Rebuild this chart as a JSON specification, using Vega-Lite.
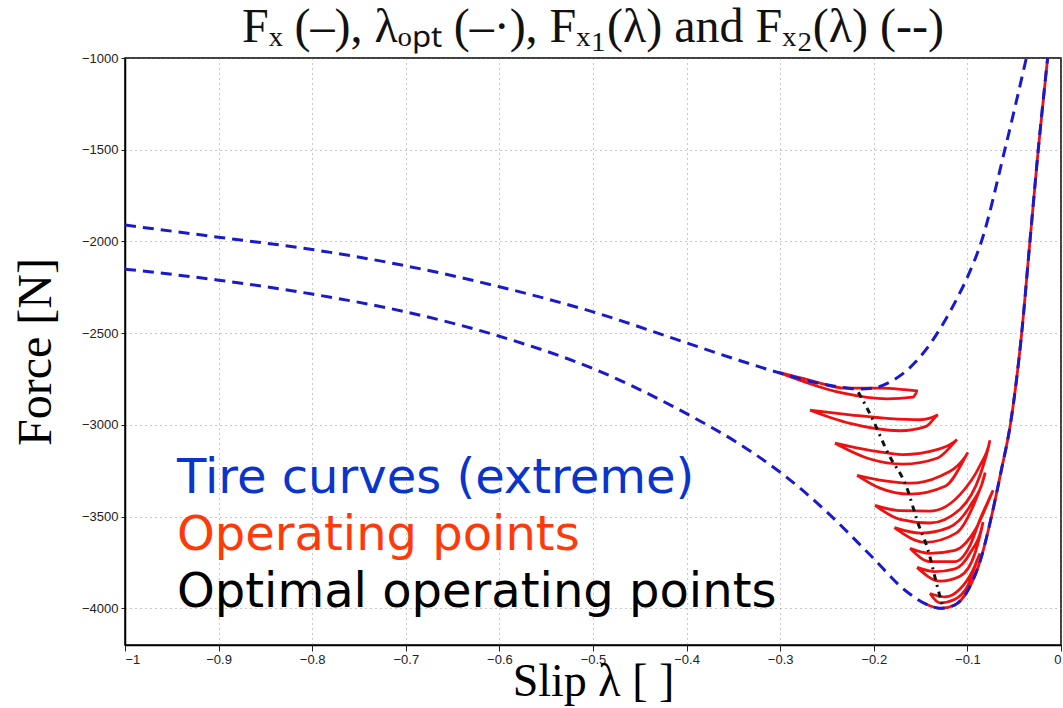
{
  "$schema": "https://vega.github.io/schema/vega-lite/v6.json",
  "width": 936,
  "height": 587,
  "autosize": "none",
  "padding": {"left": 125, "top": 58, "right": 2, "bottom": 63},
  "background": "white",
  "title": {
    "text": "Fₓ (–), λₒₚₜ (–·), Fₓ₁(λ) and Fₓ₂(λ) (--)",
    "font": "Liberation Serif",
    "fontSize": 48,
    "fontWeight": "normal",
    "color": "#111",
    "anchor": "middle",
    "offset": 0
  },
  "config": {
    "view": {"stroke": "#000", "strokeWidth": 1.5},
    "axis": {
      "labelFont": "Liberation Sans",
      "labelFontSize": 13,
      "labelColor": "#222",
      "domainColor": "#000",
      "domainWidth": 1.5,
      "tickColor": "#222",
      "gridColor": "#777",
      "gridDash": [1, 4],
      "gridWidth": 1,
      "gridOpacity": 0.8,
      "titleFont": "Liberation Serif",
      "titleFontWeight": "normal",
      "titleColor": "#000"
    }
  },
  "datasets": {
    "tireHigh": [
      {"x": -1.0, "y": -1911}, {"x": -0.9, "y": -1977}, {"x": -0.8, "y": -2044},
      {"x": -0.7, "y": -2133}, {"x": -0.6, "y": -2247}, {"x": -0.5, "y": -2384},
      {"x": -0.4, "y": -2553}, {"x": -0.35, "y": -2638}, {"x": -0.3, "y": -2718},
      {"x": -0.26, "y": -2772}, {"x": -0.23, "y": -2798}, {"x": -0.215, "y": -2805},
      {"x": -0.2, "y": -2799}, {"x": -0.185, "y": -2772}, {"x": -0.17, "y": -2725},
      {"x": -0.155, "y": -2655}, {"x": -0.14, "y": -2560}, {"x": -0.125, "y": -2440},
      {"x": -0.11, "y": -2300}, {"x": -0.1, "y": -2195}, {"x": -0.085, "y": -2000},
      {"x": -0.06, "y": -1500}, {"x": -0.037, "y": -1000}
    ],
    "tireLow": [
      {"x": -1.0, "y": -2151}, {"x": -0.9, "y": -2211}, {"x": -0.8, "y": -2287},
      {"x": -0.7, "y": -2384}, {"x": -0.6, "y": -2517}, {"x": -0.5, "y": -2693},
      {"x": -0.4, "y": -2939}, {"x": -0.344, "y": -3103}, {"x": -0.298, "y": -3266},
      {"x": -0.252, "y": -3466}, {"x": -0.202, "y": -3719}, {"x": -0.167, "y": -3900},
      {"x": -0.142, "y": -3982}, {"x": -0.128, "y": -4000}, {"x": -0.1135, "y": -3982},
      {"x": -0.0993, "y": -3900}, {"x": -0.085, "y": -3719}, {"x": -0.0744, "y": -3502},
      {"x": -0.0638, "y": -3248}, {"x": -0.054, "y": -2995}, {"x": -0.042, "y": -2500},
      {"x": -0.0332, "y": -2000}, {"x": -0.0243, "y": -1500}, {"x": -0.0143, "y": -1000}
    ],
    "operating": [
      {"h": 0, "i": 0, "x": -0.145, "y": -3975}, {"h": 0, "i": 1, "x": -0.142, "y": -3982},
      {"h": 0, "i": 2, "x": -0.128, "y": -4000}, {"h": 0, "i": 3, "x": -0.1135, "y": -3982},
      {"h": 0, "i": 4, "x": -0.0993, "y": -3900}, {"h": 0, "i": 5, "x": -0.085, "y": -3719},
      {"h": 0, "i": 6, "x": -0.0744, "y": -3502}, {"h": 0, "i": 7, "x": -0.0638, "y": -3248},
      {"h": 0, "i": 8, "x": -0.054, "y": -2995}, {"h": 0, "i": 9, "x": -0.042, "y": -2500},
      {"h": 0, "i": 10, "x": -0.0332, "y": -2000}, {"h": 0, "i": 11, "x": -0.0243, "y": -1500},
      {"h": 0, "i": 12, "x": -0.0143, "y": -1000},

      {"h": 1, "i": 0, "x": -0.3024, "y": -2713}, {"h": 1, "i": 1, "x": -0.2682, "y": -2757},
      {"h": 1, "i": 2, "x": -0.2297, "y": -2800}, {"h": 1, "i": 3, "x": -0.1934, "y": -2800},
      {"h": 1, "i": 4, "x": -0.1667, "y": -2808}, {"h": 1, "i": 5, "x": -0.1528, "y": -2815},
      {"h": 1, "i": 6, "x": -0.1581, "y": -2849}, {"h": 1, "i": 7, "x": -0.1859, "y": -2858},
      {"h": 1, "i": 8, "x": -0.234, "y": -2826}, {"h": 1, "i": 9, "x": -0.3024, "y": -2713},

      {"h": 2, "i": 0, "x": -0.2682, "y": -2920}, {"h": 2, "i": 1, "x": -0.2254, "y": -2945},
      {"h": 2, "i": 2, "x": -0.1827, "y": -2966}, {"h": 2, "i": 3, "x": -0.1506, "y": -2972},
      {"h": 2, "i": 4, "x": -0.1314, "y": -2945}, {"h": 2, "i": 5, "x": -0.1442, "y": -3008},
      {"h": 2, "i": 6, "x": -0.172, "y": -3032}, {"h": 2, "i": 7, "x": -0.2254, "y": -2992},
      {"h": 2, "i": 8, "x": -0.2682, "y": -2920},

      {"h": 3, "i": 0, "x": -0.2415, "y": -3100}, {"h": 3, "i": 1, "x": -0.2041, "y": -3139},
      {"h": 3, "i": 2, "x": -0.1688, "y": -3162}, {"h": 3, "i": 3, "x": -0.1325, "y": -3135},
      {"h": 3, "i": 4, "x": -0.1111, "y": -3080}, {"h": 3, "i": 5, "x": -0.1325, "y": -3182},
      {"h": 3, "i": 6, "x": -0.1688, "y": -3214}, {"h": 3, "i": 7, "x": -0.2041, "y": -3186},
      {"h": 3, "i": 8, "x": -0.2415, "y": -3100},

      {"h": 4, "i": 0, "x": -0.2179, "y": -3275}, {"h": 4, "i": 1, "x": -0.188, "y": -3305},
      {"h": 4, "i": 2, "x": -0.1613, "y": -3318}, {"h": 4, "i": 3, "x": -0.1293, "y": -3280},
      {"h": 4, "i": 4, "x": -0.0994, "y": -3150}, {"h": 4, "i": 5, "x": -0.1239, "y": -3335},
      {"h": 4, "i": 6, "x": -0.1613, "y": -3378}, {"h": 4, "i": 7, "x": -0.1934, "y": -3345},
      {"h": 4, "i": 8, "x": -0.2179, "y": -3275},

      {"h": 5, "i": 0, "x": -0.1987, "y": -3439}, {"h": 5, "i": 1, "x": -0.172, "y": -3468},
      {"h": 5, "i": 2, "x": -0.14, "y": -3470}, {"h": 5, "i": 3, "x": -0.1079, "y": -3380},
      {"h": 5, "i": 4, "x": -0.0865, "y": -3220}, {"h": 5, "i": 5, "x": -0.0759, "y": -3084},
      {"h": 5, "i": 6, "x": -0.0865, "y": -3275}, {"h": 5, "i": 7, "x": -0.1079, "y": -3460},
      {"h": 5, "i": 8, "x": -0.14, "y": -3535}, {"h": 5, "i": 9, "x": -0.172, "y": -3515},
      {"h": 5, "i": 10, "x": -0.1987, "y": -3439},

      {"h": 9, "i": 0, "x": -0.178, "y": -3560}, {"h": 9, "i": 1, "x": -0.15, "y": -3590},
      {"h": 9, "i": 2, "x": -0.12, "y": -3560}, {"h": 9, "i": 3, "x": -0.097, "y": -3440},
      {"h": 9, "i": 4, "x": -0.081, "y": -3260}, {"h": 9, "i": 5, "x": -0.092, "y": -3420},
      {"h": 9, "i": 6, "x": -0.112, "y": -3590}, {"h": 9, "i": 7, "x": -0.145, "y": -3640},
      {"h": 9, "i": 8, "x": -0.178, "y": -3560},

      {"h": 6, "i": 0, "x": -0.1613, "y": -3673}, {"h": 6, "i": 1, "x": -0.14, "y": -3700},
      {"h": 6, "i": 2, "x": -0.1132, "y": -3684}, {"h": 6, "i": 3, "x": -0.0919, "y": -3575},
      {"h": 6, "i": 4, "x": -0.0726, "y": -3357}, {"h": 6, "i": 5, "x": -0.0865, "y": -3515},
      {"h": 6, "i": 6, "x": -0.0972, "y": -3657}, {"h": 6, "i": 7, "x": -0.1132, "y": -3745},
      {"h": 6, "i": 8, "x": -0.14, "y": -3745}, {"h": 6, "i": 9, "x": -0.1613, "y": -3673},

      {"h": 7, "i": 0, "x": -0.1538, "y": -3777}, {"h": 7, "i": 1, "x": -0.1346, "y": -3800},
      {"h": 7, "i": 2, "x": -0.1132, "y": -3785}, {"h": 7, "i": 3, "x": -0.0972, "y": -3700},
      {"h": 7, "i": 4, "x": -0.0833, "y": -3530}, {"h": 7, "i": 5, "x": -0.0919, "y": -3700},
      {"h": 7, "i": 6, "x": -0.1079, "y": -3825}, {"h": 7, "i": 7, "x": -0.1293, "y": -3852},
      {"h": 7, "i": 8, "x": -0.1538, "y": -3777},

      {"h": 8, "i": 0, "x": -0.14, "y": -3919}, {"h": 8, "i": 1, "x": -0.1239, "y": -3938},
      {"h": 8, "i": 2, "x": -0.1079, "y": -3895}, {"h": 8, "i": 3, "x": -0.094, "y": -3790},
      {"h": 8, "i": 4, "x": -0.0865, "y": -3700}, {"h": 8, "i": 5, "x": -0.0994, "y": -3875},
      {"h": 8, "i": 6, "x": -0.1132, "y": -3950}, {"h": 8, "i": 7, "x": -0.1293, "y": -3970},
      {"h": 8, "i": 8, "x": -0.14, "y": -3919}
    ],
    "optimal": [
      {"x": -0.2165, "y": -2822}, {"x": -0.2023, "y": -2958}, {"x": -0.1845, "y": -3158},
      {"x": -0.165, "y": -3339}, {"x": -0.1526, "y": -3538}, {"x": -0.142, "y": -3683},
      {"x": -0.133, "y": -3864}, {"x": -0.126, "y": -4000}
    ],
    "notes": [
      {"t": "Tire curves (extreme)", "x": -0.9444, "y": -3373},
      {"t": "Operating points", "x": -0.9444, "y": -3684},
      {"t": "Optimal operating points", "x": -0.9444, "y": -3995}
    ]
  },
  "layer": [
    {
      "data": {"name": "operating"},
      "mark": {"type": "line", "color": "#ee1111", "strokeWidth": 2.8, "interpolate": "monotone", "clip": true},
      "encoding": {
        "x": {
          "field": "x", "type": "quantitative",
          "scale": {"domain": [-1, 0], "nice": false, "zero": false},
          "axis": {
            "values": [-1, -0.9, -0.8, -0.7, -0.6, -0.5, -0.4, -0.3, -0.2, -0.1, 0],
            "format": "~g",
            "grid": true,
            "tickSize": 6,
            "labelPadding": 2,
            "title": "Slip λ [ ]",
            "titleFontSize": 46,
            "titleY": 50,
            "titleBaseline": "alphabetic"
          }
        },
        "y": {
          "field": "y", "type": "quantitative",
          "scale": {"domain": [-4200, -1000], "nice": false, "zero": false},
          "axis": {
            "values": [-4000, -3500, -3000, -2500, -2000, -1500, -1000],
            "format": "d",
            "grid": true,
            "tickSize": 4,
            "labelPadding": 3,
            "title": "Force [N]",
            "titleFontSize": 48,
            "titleX": -75,
            "titleBaseline": "alphabetic"
          }
        },
        "detail": {"field": "h", "type": "nominal"},
        "order": {"field": "i", "type": "quantitative"}
      }
    },
    {
      "data": {"name": "tireHigh"},
      "mark": {"type": "line", "color": "#1a1acd", "strokeWidth": 3, "strokeDash": [11, 7], "interpolate": "monotone", "clip": true},
      "encoding": {
        "x": {"field": "x", "type": "quantitative"},
        "y": {"field": "y", "type": "quantitative"}
      }
    },
    {
      "data": {"name": "tireLow"},
      "mark": {"type": "line", "color": "#1a1acd", "strokeWidth": 3, "strokeDash": [11, 7], "interpolate": "monotone", "clip": true},
      "encoding": {
        "x": {"field": "x", "type": "quantitative"},
        "y": {"field": "y", "type": "quantitative"}
      }
    },
    {
      "data": {"name": "optimal"},
      "mark": {"type": "line", "color": "#111", "strokeWidth": 3, "strokeDash": [6, 5, 2, 5], "interpolate": "monotone"},
      "encoding": {
        "x": {"field": "x", "type": "quantitative"},
        "y": {"field": "y", "type": "quantitative"}
      }
    },
    {
      "data": {"name": "notes"},
      "mark": {"type": "text", "font": "DejaVu Sans", "fontSize": 48, "align": "left", "baseline": "alphabetic"},
      "encoding": {
        "x": {"field": "x", "type": "quantitative"},
        "y": {"field": "y", "type": "quantitative"},
        "text": {"field": "t"},
        "color": {
          "field": "t", "type": "nominal",
          "scale": {
            "domain": ["Tire curves (extreme)", "Operating points", "Optimal operating points"],
            "range": ["#0a35cc", "#ff3a0a", "#000000"]
          },
          "legend": null
        }
      }
    }
  ]
}
